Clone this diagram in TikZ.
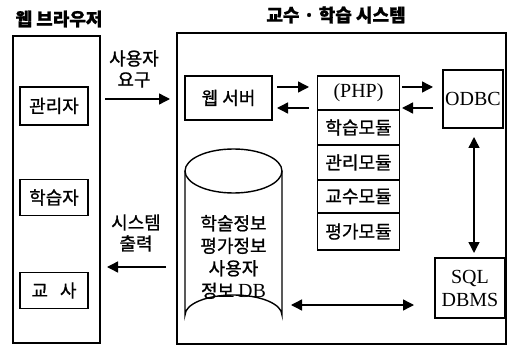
\documentclass[tikz,border=0pt]{standalone}
\usepackage{fontspec}
\setmainfont{Liberation Serif}
\newfontfamily\cjk[FakeBold=1]{Noto Sans CJK KR}
\usetikzlibrary{arrows.meta}
\tikzset{
  ln/.style={line width=1.4pt},
  bx/.style={draw, line width=1.4pt, inner sep=0pt, font=\cjk\fontsize{18}{20}\selectfont},
  lat/.style={font=\rmfamily\fontsize{20}{22}\selectfont},
  lbl/.style={font=\cjk\fontsize{18}{21}\selectfont, align=center, inner sep=0pt},
  ttl/.style={font=\cjk\bfseries\fontsize{18}{20}\selectfont, inner sep=0pt},
  ar/.style={line width=1.4pt, -{Triangle[length=11pt,width=11pt]}},
  dar/.style={line width=1.4pt, {Triangle[length=11pt,width=11pt]}-{Triangle[length=11pt,width=11pt]}},
}
\begin{document}
\begin{tikzpicture}[x=1pt,y=-1pt]
\useasboundingbox (0,0) rectangle (508,347);
% titles
\node[ttl] (t1) at (59,19) {웹 브라우저};
\node[ttl] (t2) at (336,15) {교수 · 학습 시스템};
% outer boxes
\draw[ln] (13,36) rectangle (100,343);
\draw[ln] (177,33) rectangle (506,344);
% left boxes
\node[bx, minimum width=68pt, minimum height=38pt] (adm) at (54,106) {관리자};
\node[bx, minimum width=68pt, minimum height=36pt] (stu) at (54,197.5) {학습자};
\node[bx, minimum width=68pt, minimum height=36pt] (tea) at (54,290.5) {교\hspace{12pt}사};
% labels
\node[lbl] (req) at (134,69) {사용자\\요구};
\node[lbl] (out) at (136,233) {시스템\\출력};
% web server
\node[bx, minimum width=87pt, minimum height=44pt] (web) at (228.5,98) {웹 서버};
% PHP stack
\node[bx, lat, minimum width=82pt, minimum height=34pt] (php) at (358.5,93) {(PHP)};
\node[bx, minimum width=82pt, minimum height=35pt] (m1) at (358.5,127.5) {학습모듈};
\node[bx, minimum width=82pt, minimum height=35pt] (m2) at (358.5,162.5) {관리모듈};
\node[bx, minimum width=82pt, minimum height=33pt] (m3) at (358.5,196.5) {교수모듈};
\node[bx, minimum width=82pt, minimum height=37pt] (m4) at (358.5,231.5) {평가모듈};
% ODBC
\node[bx, lat, minimum width=60pt, minimum height=58pt] (odbc) at (473,99) {ODBC};
% SQL DBMS
\node[bx, lat, minimum width=70pt, minimum height=60pt, align=center, font=\fontsize{20}{23}\selectfont] (sql) at (470,288) {SQL\\DBMS};
% cylinder
\draw[ln] (233.5,171) ellipse [x radius=48.5, y radius=22];
\draw[ln] (185,171) -- (185,315) arc[start angle=180, end angle=360, x radius=48.5, y radius=20] -- (282,171);
\node[lbl, font=\cjk\fontsize{18}{22.5}\selectfont] (db) at (233.5,257) {학술정보\\평가정보\\사용자\\정보 {\rmfamily\fontsize{20}{22.5}\selectfont DB}};
% connector end points
\coordinate (dbR) at (291,305);
\coordinate (sqlL) at (414,305);
\coordinate (a1s) at (105,99); \coordinate (a1e) at (170,99);
\coordinate (a2s) at (166,267); \coordinate (a2e) at (107,267);
\coordinate (w1s) at (277,87); \coordinate (w1e) at (309,87);
\coordinate (w2s) at (309,108); \coordinate (w2e) at (277,108);
\coordinate (p1s) at (402,87); \coordinate (p1e) at (433,87);
\coordinate (p2s) at (433,108); \coordinate (p2e) at (402,108);
\coordinate (v1) at (474,137); \coordinate (v2) at (474,253);
% arrows
\draw[ar] (a1s) -- (a1e);
\draw[ar] (a2s) -- (a2e);
\draw[ar] (w1s) -- (w1e);
\draw[ar] (w2s) -- (w2e);
\draw[ar] (p1s) -- (p1e);
\draw[ar] (p2s) -- (p2e);
\draw[dar] (v1) -- (v2);
\draw[dar] (dbR) -- (sqlL);
\end{tikzpicture}
\end{document}
